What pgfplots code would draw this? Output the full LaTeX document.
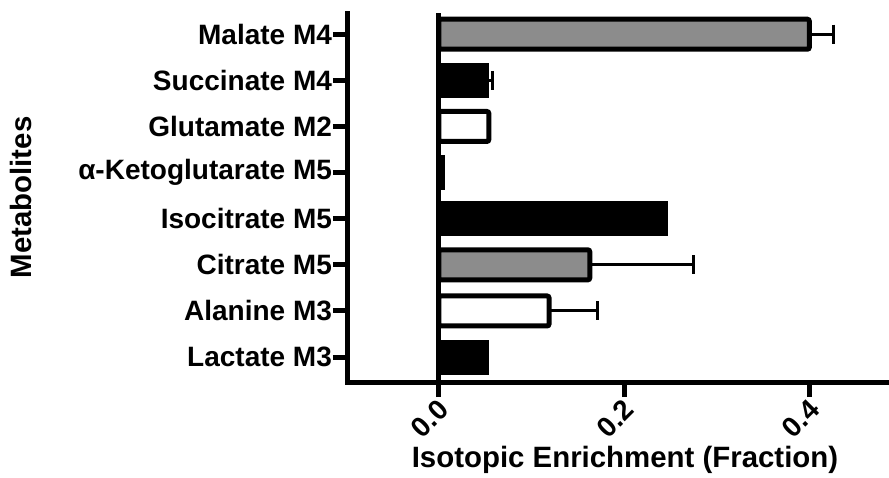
\documentclass[border=0pt]{standalone}
\usepackage{fontspec}
\setmainfont{Liberation Sans}
\usepackage{pgfplots}
\pgfplotsset{compat=1.18}
\definecolor{barGray}{RGB}{140,140,140}
\newcommand{\chartfont}{\bfseries\fontsize{14}{16}\selectfont}
\newcommand{\labelfont}{\bfseries\fontsize{14.7}{17}\selectfont}
\begin{document}
\begin{tikzpicture}
\useasboundingbox (0,0) rectangle (444.5pt,238.5pt);
\begin{axis}[
    at={(174pt,47.5pt)}, anchor=south west,
    scale only axis, width=270.5pt, height=184.5pt,
    xmin=-0.098, xmax=0.486, ymin=-0.54, ymax=7.46,
    axis lines*=left,
    axis line style={line width=2.5pt, line cap=rect},
    xbar, bar width=15pt, bar shift=0pt,
    xtick={0,0.2,0.4}, xticklabels={0.0,0.2,0.4},
    ytick={0,...,7},
    yticklabels={Lactate M3,Alanine M3,Citrate M5,Isocitrate M5,α-Ketoglutarate M5,Glutamate M2,Succinate M4,Malate M4},
    tick align=outside, major tick length=7.5pt,
    major tick style={line width=2.5pt, black},
    tick label style={font=\chartfont},
    label style={font=\labelfont},
    xticklabel style={rotate=45, anchor=east, xshift=2.5pt, yshift=-4.5pt},
    yticklabel style={xshift=3pt},
    xlabel={Isotopic Enrichment (Fraction)},
    ylabel={Metabolites},
    xlabel style={at={(axis description cs:0.512,-0.21)}, anchor=center},
    ylabel style={at={(axis description cs:-0.605,0.5)}, anchor=center},
    clip=false,
]
% black bars
\addplot[fill=black, draw=black, line width=2.5pt,
    error bars/.cd, x dir=plus, x explicit, error mark=|,
    error bar style={line width=1.5pt, black},
    error mark options={line width=1.5pt, mark size=4.75pt, black}]
    coordinates {(0.052,0) (0.245,3) (0.004,4) (0.052,6) +- (0.006,0)};
% white bars
\addplot[fill=white, draw=black, line width=2.5pt, rounded corners=1pt,
    error bars/.cd, x dir=plus, x explicit, error mark=|,
    error bar style={line width=1.5pt, black, sharp corners},
    error mark options={line width=1.5pt, mark size=4.75pt, black}]
    coordinates {(0.119,1) +- (0.052,0) (0.054,5)};
% gray bars
\addplot[fill=barGray, draw=black, line width=2.5pt, rounded corners=1pt,
    error bars/.cd, x dir=plus, x explicit, error mark=|,
    error bar style={line width=1.5pt, black, sharp corners},
    error mark options={line width=1.5pt, mark size=4.75pt, black}]
    coordinates {(0.163,2) +- (0.112,0) (0.400,7) +- (0.026,0)};
\draw[line width=2.5pt] (axis cs:0,-0.54) -- (axis cs:0,7.46);
\end{axis}
\end{tikzpicture}
\end{document}
